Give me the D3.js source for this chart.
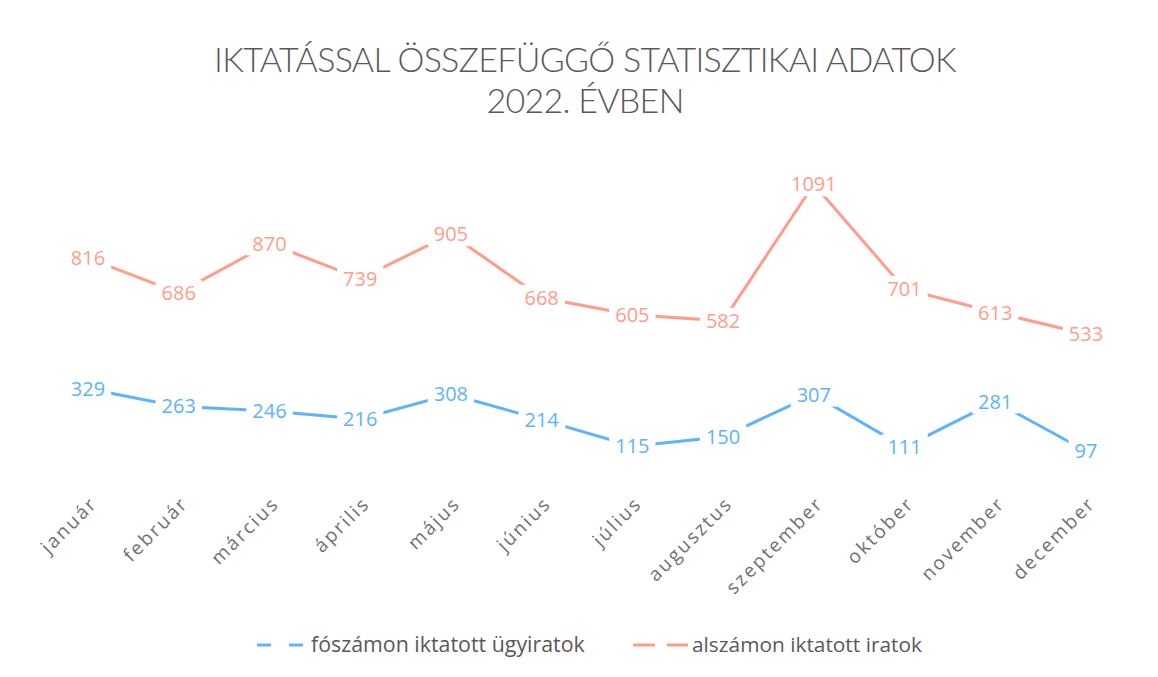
<!DOCTYPE html>
<html><head><meta charset="utf-8">
<script src="https://cdn.jsdelivr.net/npm/d3@7/dist/d3.min.js"></script>
<style>
body{margin:0;background:#fff;}
svg{display:block;font-family:"Open Sans", sans-serif;}
</style></head><body>
<svg id="c" width="1158" height="677"></svg>
<script>
const months = ["január","február","március","április","május","június","július","augusztus","szeptember","október","november","december"];
const foszam = [329,263,246,216,308,214,115,150,307,111,281,97];
const alszam = [816,686,870,739,905,668,605,582,1091,701,613,533];
const seriesNames = ["fószámon iktatott ügyiratok","alszámon iktatott iratok"];
const colors = ["#5CB3FF","#FF9D8A"];
const titleLines = ["IKTATÁSSAL ÖSSZEFÜGGŐ STATISZTIKAI ADATOK","2022. ÉVBEN"];

const svg = d3.select("#c");
const x = d3.scalePoint().domain(months).range([88,1086]);
const y = d3.scaleLinear().domain([0,1200]).range([477,155]);

function fit(sel, target){
  const n = sel.node();
  const fs = parseFloat(sel.attr("font-size"));
  const w = n.getComputedTextLength();
  return fs*target/w;
}

svg.selectAll("text.title").data(titleLines).join("text")
  .attr("class","title")
  .attr("x",585).attr("y",(d,i)=>72+i*41)
  .attr("text-anchor","middle").attr("font-size",34).attr("font-weight",300)
  .attr("font-family","Lato, sans-serif")
  .attr("letter-spacing","-0.7px")
  .attr("fill","#595959").text(d=>d);

// axis labels
const ax = svg.append("g")
  .call(d3.axisBottom(x).tickSize(0).tickPadding(0));
ax.select(".domain").remove();
ax.selectAll(".tick").attr("transform",d=>`translate(${x(d)+6},500)`);
const axText = ax.selectAll("text")
  .attr("font-family","'Open Sans', sans-serif").attr("font-size",19)
  .attr("fill","#707070")
  .attr("text-anchor","end").attr("y",0).attr("dy","0.35em")
  .attr("transform","rotate(-45)");
const szep = axText.filter(d=>d==="szeptember");
const sw = szep.node().getComputedTextLength();
axText.attr("letter-spacing",((128-sw)/10)+"px");

const series = [foszam, alszam];
const line = d3.line().x((d,i)=>x(months[i])).y(d=>y(d));
series.forEach((s,k)=>{
  svg.append("path").datum(s).attr("d",line).attr("fill","none")
    .attr("stroke",colors[k]).attr("stroke-width",3);
  const g = svg.append("g");
  const lab = g.selectAll("g").data(s).join("g")
    .attr("transform",(d,i)=>`translate(${x(months[i])},${y(d)})`);
  const t = lab.append("text").attr("text-anchor","middle").attr("dy","0.35em")
    .attr("font-size",20).attr("fill",colors[k]).text(d=>d);
  t.each(function(){
    const b=this.getBBox();
    d3.select(this.parentNode).insert("rect","text")
      .attr("x",b.x-6).attr("y",b.y+1).attr("width",b.width+12).attr("height",b.height-2)
      .attr("fill","#fff");
  });
});

// legend
const leg = [{x1:257,x2:309,tx:311,tw:274,dash:"14,18"},{x1:633,x2:688,tx:692,tw:230,dash:"22,12"}];
seriesNames.forEach((n,k)=>{
  const g = svg.append("g");
  g.append("line").attr("x1",leg[k].x1).attr("x2",leg[k].x2).attr("y1",645).attr("y2",645)
    .attr("stroke",colors[k]).attr("stroke-width",3)
    .attr("stroke-dasharray", leg[k].dash);
  const t = g.append("text").attr("x",leg[k].tx).attr("y",645).attr("dy","0.35em")
    .attr("font-size",18).attr("fill","#595959").text(n);
  t.attr("font-size",fit(t,leg[k].tw));
});
</script>
</body></html>
